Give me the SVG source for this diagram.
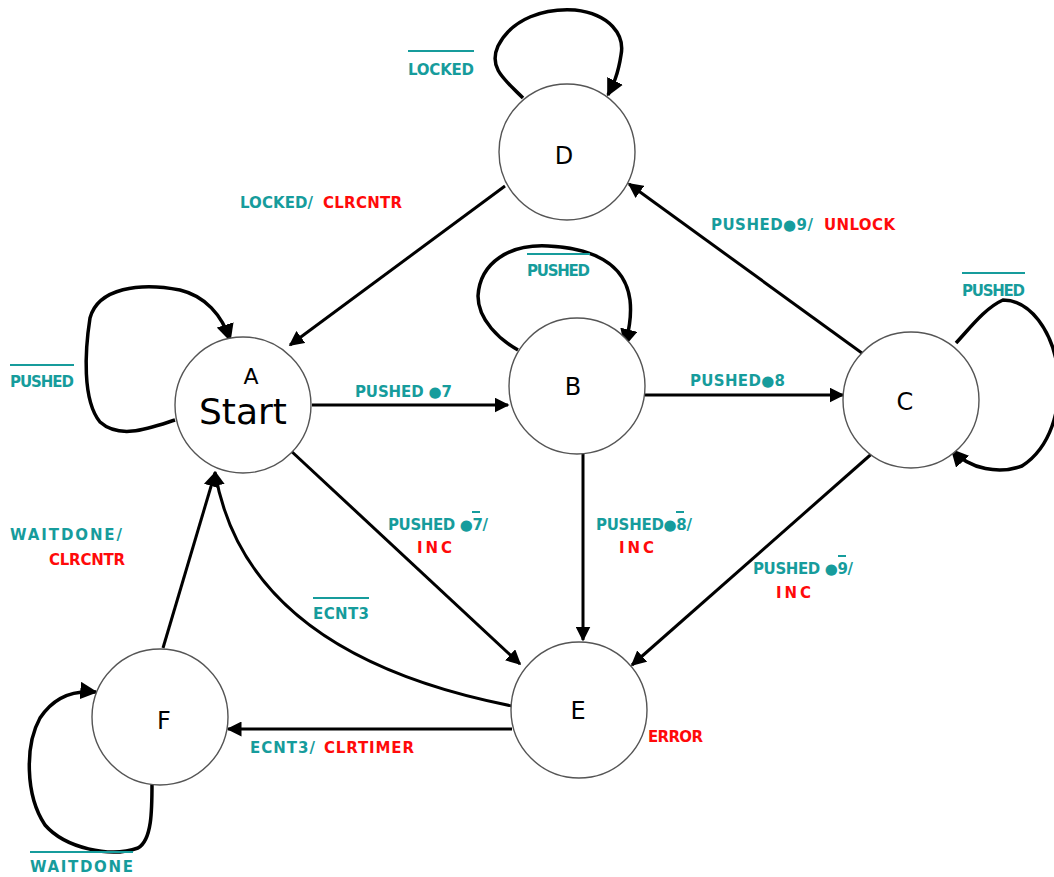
<svg xmlns="http://www.w3.org/2000/svg" width="1054" height="877" viewBox="0 0 1054 877">
  <style>
    .node { fill: #ffffff; stroke: #555555; stroke-width: 1.4; }
    .edge { fill: none; stroke: #000000; stroke-width: 3; marker-end: url(#arrow); }
    .loop { fill: none; stroke: #000000; stroke-width: 3.5; marker-end: url(#arrow); }
    .name { font-family: "DejaVu Sans", sans-serif; fill: #000000; text-anchor: middle; }
    .lbl { font-family: "DejaVu Sans", sans-serif; font-weight: bold; font-size: 15px; }
    .cond { fill: #169c9c; }
    .act { fill: #ff0a0a; }
    .bar { stroke: #169c9c; stroke-width: 2; }
  </style>
  <defs>
    <marker id="arrow" viewBox="0 0 10 10" refX="9" refY="5" markerWidth="5" markerHeight="5" markerUnits="strokeWidth" orient="auto">
      <path d="M0,0 L10,5 L0,10 Z" fill="#000000"/>
    </marker>
  </defs>
  <rect width="1054" height="877" fill="#ffffff"/>

  <!-- transitions -->
  <g id="connectors">
    <line class="edge" x1="505" y1="186" x2="290" y2="345"/>
    <line class="edge" x1="866" y1="356" x2="629" y2="184"/>
    <line class="edge" x1="312" y1="405" x2="508" y2="405"/>
    <line class="edge" x1="645" y1="395" x2="843" y2="395"/>
    <line class="edge" x1="583" y1="452" x2="583" y2="640"/>
    <line class="edge" x1="290" y1="450" x2="520" y2="664"/>
    <line class="edge" x1="876" y1="450" x2="632" y2="665"/>
    <line class="edge" x1="512" y1="729" x2="228" y2="729"/>
    <line class="edge" x1="163" y1="648" x2="215" y2="473"/>
    <path class="edge" d="M512,706 C380,680 240,620 215,472"/>
    <!-- self loops -->
    <path class="loop" d="M523,98 C505,80 488,68 498,46 C512,18 545,8 575,10 C610,14 625,35 621,55 C618,75 613,85 608,95"/>
    <path class="loop" d="M175,420 C150,428 120,440 100,422 C82,400 85,350 90,318 C98,288 140,282 180,290 C205,296 222,315 230,340"/>
    <path class="loop" d="M518,350 C500,340 478,320 478,296 C480,262 510,244 548,246 C590,248 625,262 630,300 C632,318 628,333 625,345"/>
    <path class="loop" d="M956,343 C970,328 985,308 1003,300 C1030,300 1052,330 1058,370 C1062,410 1050,448 1022,466 C1000,474 970,470 952,450"/>
    <path class="loop" d="M152,783 C152,810 152,840 138,848 C110,858 65,848 45,825 C25,795 25,745 40,718 C55,695 75,690 96,692"/>
  </g>

  <!-- states -->
  <g id="node-D">
    <circle class="node" cx="567" cy="152" r="68"/>
    <text class="name" x="564" y="164" font-size="24">D</text>
  </g>
  <g id="node-A">
    <circle class="node" cx="243" cy="405" r="68"/>
    <text class="name" x="251" y="384" font-size="22">A</text>
    <text class="name" x="243" y="424" font-size="36">Start</text>
  </g>
  <g id="node-B">
    <circle class="node" cx="577" cy="386" r="68"/>
    <text class="name" x="573" y="395" font-size="24">B</text>
  </g>
  <g id="node-C">
    <circle class="node" cx="911" cy="400" r="68"/>
    <text class="name" x="905" y="410" font-size="24">C</text>
  </g>
  <g id="node-E">
    <circle class="node" cx="579" cy="710" r="68"/>
    <text class="name" x="578" y="719" font-size="24">E</text>
  </g>
  <g id="node-F">
    <circle class="node" cx="160" cy="717" r="68"/>
    <text class="name" x="164" y="729" font-size="24">F</text>
  </g>

  <!-- transition labels -->
  <g id="labels" class="lbl">
    <line class="bar" x1="408" y1="51" x2="474" y2="51"/>
    <text class="cond" x="408" y="75" textLength="66">LOCKED</text>

    <text class="cond" x="240" y="208" textLength="73">LOCKED/</text>
    <text class="act" x="323" y="208" textLength="79">CLRCNTR</text>

    <text class="cond" x="711" y="230" textLength="102">PUSHED●9/</text>
    <text class="act" x="824" y="230" textLength="71">UNLOCK</text>

    <line class="bar" x1="527" y1="254" x2="590" y2="254"/>
    <text class="cond" x="527" y="276" textLength="63">PUSHED</text>

    <line class="bar" x1="962" y1="273" x2="1025" y2="273"/>
    <text class="cond" x="962" y="296" textLength="63">PUSHED</text>

    <line class="bar" x1="10" y1="365" x2="74" y2="365"/>
    <text class="cond" x="10" y="387" textLength="64">PUSHED</text>

    <text class="cond" x="355" y="397" textLength="97">PUSHED ●7</text>
    <text class="cond" x="690" y="386" textLength="95">PUSHED●8</text>

    <text class="cond" x="388" y="530" textLength="100">PUSHED ●7/</text>
    <line class="bar" x1="472" y1="512" x2="480" y2="512"/>
    <text class="act" x="417" y="553" textLength="35">INC</text>

    <text class="cond" x="596" y="530" textLength="96">PUSHED●8/</text>
    <line class="bar" x1="676" y1="512" x2="684" y2="512"/>
    <text class="act" x="619" y="553" textLength="35">INC</text>

    <text class="cond" x="753" y="574" textLength="100">PUSHED ●9/</text>
    <line class="bar" x1="838" y1="556" x2="846" y2="556"/>
    <text class="act" x="776" y="598" textLength="35">INC</text>

    <line class="bar" x1="313" y1="598" x2="369" y2="598"/>
    <text class="cond" x="313" y="619" textLength="56">ECNT3</text>

    <text class="cond" x="10" y="540" textLength="112">WAITDONE/</text>
    <text class="act" x="49" y="565" textLength="76">CLRCNTR</text>

    <text class="cond" x="250" y="753" textLength="65">ECNT3/</text>
    <text class="act" x="324" y="753" textLength="90">CLRTIMER</text>

    <text class="act" x="648" y="742" textLength="55">ERROR</text>

    <line class="bar" x1="30" y1="852" x2="133" y2="852"/>
    <text class="cond" x="30" y="872" textLength="103">WAITDONE</text>
  </g>
</svg>
